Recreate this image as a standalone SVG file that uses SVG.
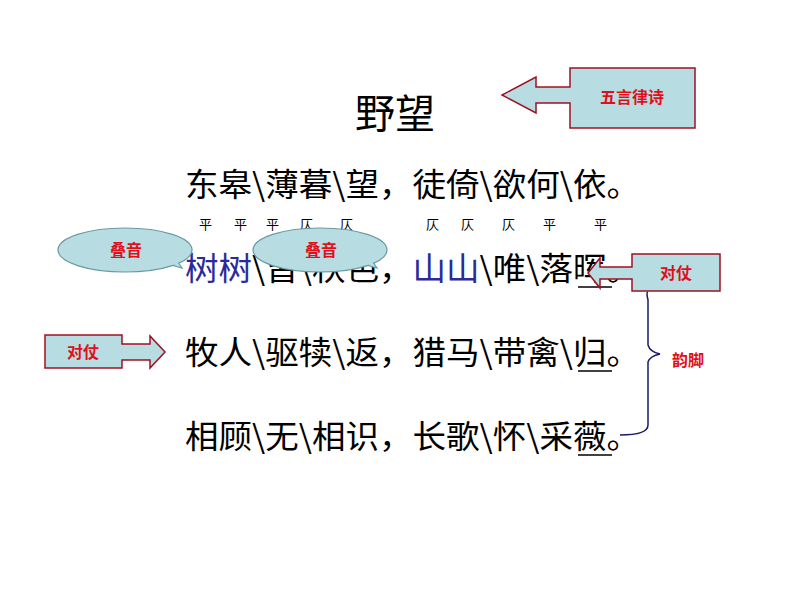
<svg xmlns="http://www.w3.org/2000/svg" width="794" height="596" viewBox="0 0 794 596">
<style>
.p{font-family:"Noto Sans CJK SC","Liberation Sans",sans-serif;font-size:32px;fill:#000}
.t{font-family:"Noto Sans CJK SC",serif;font-size:13px;fill:#000}
.lb{font-family:"Noto Sans CJK SC",sans-serif;font-size:16px;font-weight:bold;fill:#e0101a}
.bx{fill:#b7dde3;stroke:#a01020;stroke-width:1.5}
.el{fill:#b7dde3;stroke:#6a9aa0;stroke-width:1.2}
</style>
<rect width="794" height="596" fill="#fff"/>
<g id="title"><text x="355" y="128" style="font-family:'Noto Sans CJK SC',sans-serif;font-size:40px">野望</text></g>
<g id="lines">
<text class="p" x="185" y="196" textLength="455" lengthAdjust="spacingAndGlyphs">东皋\薄暮\望，徒倚\欲何\依。</text>
<text class="p" x="185" y="280" textLength="455" lengthAdjust="spacingAndGlyphs"><tspan fill="#2a2a9a">树树</tspan>\皆\秋色，<tspan fill="#2a2a9a">山山</tspan>\唯\落晖。</text>
<text class="p" x="185" y="364" textLength="455" lengthAdjust="spacingAndGlyphs">牧人\驱犊\返，猎马\带禽\归。</text>
<text class="p" x="185" y="448" textLength="455" lengthAdjust="spacingAndGlyphs">相顾\无\相识，长歌\怀\采薇。</text>
<line x1="578" y1="287" x2="612" y2="287" stroke="#000" stroke-width="1.5"/>
<line x1="578" y1="371" x2="612" y2="371" stroke="#000" stroke-width="1.5"/>
<line x1="578" y1="455" x2="612" y2="455" stroke="#000" stroke-width="1.5"/>
</g>
<g id="tones">
<text class="t" x="199" y="229">平</text><text class="t" x="234" y="229">平</text><text class="t" x="266" y="229">平</text><text class="t" x="300" y="229">仄</text><text class="t" x="340" y="229">仄</text>
<text class="t" x="426" y="229">仄</text><text class="t" x="461" y="229">仄</text><text class="t" x="502" y="229">仄</text><text class="t" x="543" y="229">平</text><text class="t" x="594" y="229">平</text>
</g>
<g id="connectors">
<path d="M648,292 Q646,292 648,300 L648,345 Q650,352 660,354 Q650,356 648,362 L648,425 Q648,435 620,435" fill="none" stroke="#1a1a6a" stroke-width="1.5"/>
</g>
<g id="wuyan">
<path class="bx" d="M570,68 H695 V128 H570 V103 H536 V113 L502,95 L536,77 V87 H570 Z"/>
<text class="lb" x="632" y="103" text-anchor="middle">五言律诗</text>
</g>
<g id="duizhang1">
<path class="bx" d="M632,254 H720 V291 H632 V279 H600 V288 L588,273 L600,258 V267 H632 Z"/>
<text class="lb" x="676" y="279" text-anchor="middle">对仗</text>
</g>
<g id="duizhang2">
<path class="bx" d="M45,335 H122 V344 H150 V336 L165,352 L150,368 V360 H122 V368 H45 Z"/>
<text class="lb" x="83" y="358" text-anchor="middle">对仗</text>
</g>
<g id="yunjiao"><text class="lb" x="672" y="366">韵脚</text></g>
<g id="dieyin1">
<path class="el" d="M160,262 L182,268 L175,258 Z"/>
<ellipse class="el" cx="125" cy="250" rx="67" ry="22"/>
<path d="M162,262 L180,266 L174,258 Z" fill="#b7dde3"/>
<text class="lb" x="126" y="256" text-anchor="middle">叠音</text>
</g>
<g id="dieyin2">
<path class="el" d="M355,262 L377,268 L370,258 Z"/>
<ellipse class="el" cx="320" cy="250" rx="67" ry="22"/>
<path d="M357,262 L375,266 L369,258 Z" fill="#b7dde3"/>
<text class="lb" x="321" y="256" text-anchor="middle">叠音</text>
</g>
</svg>
